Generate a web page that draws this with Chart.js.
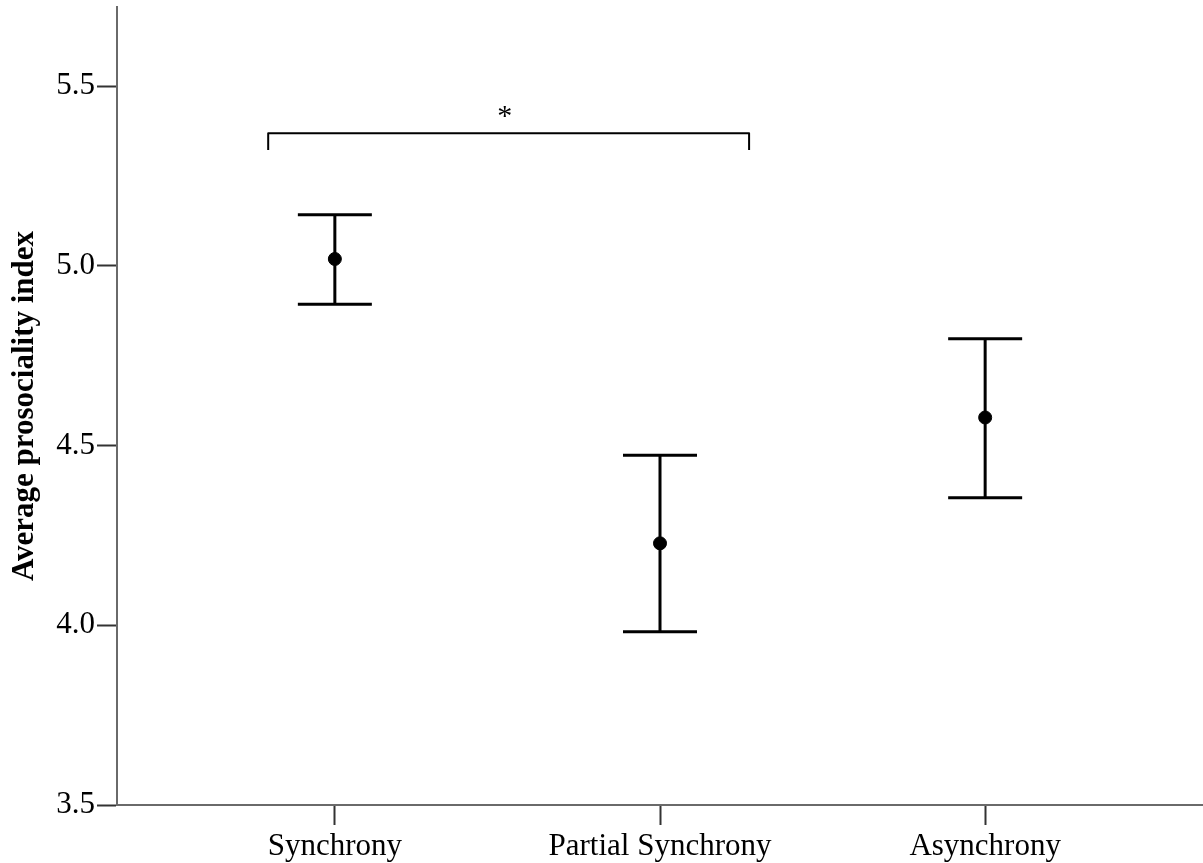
<!DOCTYPE html>
<html>
<head>
<meta charset="utf-8">
<script src="https://cdn.jsdelivr.net/npm/chart.js@4/dist/chart.umd.min.js"></script>
<style>
  html, body { margin: 0; padding: 0; background: #fff; }
  #wrap { width: 1203px; height: 863px; position: relative; }
</style>
</head>
<body>
<div id="wrap"><canvas id="chart"></canvas></div>
<script>
// Condition means with error-bar limits
const conditions = ['Synchrony', 'Partial Synchrony', 'Asynchrony'];
const means = [5.019, 4.228, 4.578];
const upper = [5.142, 4.473, 4.797];
const lower = [4.893, 3.982, 4.355];
const yTicks = [3.5, 4.0, 4.5, 5.0, 5.5];

// Significance bracket between Synchrony and Partial Synchrony
const bracketX = [0.795, 2.274];
const bracketY = 5.369;
const bracketFoot = 5.322;
const sigMark = '*';

const INK = '#000';
const SERIF = '"Liberation Serif", "Times New Roman", serif';

const errorBars = {
  id: 'errorBars',
  beforeDatasetsDraw(chart) {
    const { ctx, scales: { x, y } } = chart;
    const cap = 37;
    ctx.save();
    ctx.strokeStyle = INK;
    ctx.lineWidth = 3;
    ctx.lineCap = 'butt';
    conditions.forEach((c, i) => {
      const px = x.getPixelForValue(i + 1);
      const top = y.getPixelForValue(upper[i]);
      const bot = y.getPixelForValue(lower[i]);
      ctx.beginPath();
      ctx.moveTo(px, top); ctx.lineTo(px, bot);
      ctx.moveTo(px - cap, top); ctx.lineTo(px + cap, top);
      ctx.moveTo(px - cap, bot); ctx.lineTo(px + cap, bot);
      ctx.stroke();
    });
    // significance bracket
    const x0 = x.getPixelForValue(bracketX[0]);
    const x1 = x.getPixelForValue(bracketX[1]);
    const yb = y.getPixelForValue(bracketY);
    const yf = y.getPixelForValue(bracketFoot);
    ctx.lineWidth = 2;
    ctx.lineJoin = 'round';
    ctx.beginPath();
    ctx.moveTo(x0, yf); ctx.lineTo(x0, yb); ctx.lineTo(x1, yb); ctx.lineTo(x1, yf);
    ctx.stroke();
    ctx.fillStyle = INK;
    ctx.font = '30px ' + SERIF;
    ctx.textAlign = 'center';
    ctx.textBaseline = 'alphabetic';
    ctx.fillText(sigMark, (x0 + x1) / 2 - 4, yb - 8);
    ctx.restore();
  }
};

// Keep the plot box fixed: no extra room reserved for edge labels
function noEdgePadding(scale) {
  scale.paddingTop = 0;
  scale.paddingBottom = 0;
  scale.paddingLeft = 0;
  scale.paddingRight = 0;
}

new Chart(document.getElementById('chart'), {
  type: 'scatter',
  data: {
    datasets: [{
      data: means.map((m, i) => ({ x: i + 1, y: m })),
      backgroundColor: INK,
      borderColor: INK,
      pointRadius: 6.5,
      pointHoverRadius: 6.5
    }]
  },
  options: {
    responsive: true,
    maintainAspectRatio: false,
    animation: false,
    layout: { autoPadding: false, padding: { top: 7, right: 0, left: 0, bottom: 0 } },
    plugins: { legend: { display: false }, tooltip: { enabled: false } },
    scales: {
      x: {
        type: 'linear',
        min: 0.33,
        max: 3.67,
        afterBuildTicks(scale) { scale.ticks = conditions.map((c, i) => ({ value: i + 1 })); },
        afterFit(scale) { scale.height = 58; noEdgePadding(scale); },
        border: { display: true, color: '#6a6a6a', width: 2 },
        grid: { drawOnChartArea: false, tickLength: 20, tickColor: '#333', tickWidth: 2 },
        ticks: {
          color: INK,
          padding: 3,
          maxRotation: 0,
          autoSkip: false,
          font: { family: SERIF, size: 31 },
          callback: (v) => conditions[Math.round(v) - 1]
        }
      },
      y: {
        min: 3.5,
        max: 5.72,
        afterBuildTicks(scale) { scale.ticks = yTicks.map(v => ({ value: v })); },
        afterFit(scale) { scale.width = 117; noEdgePadding(scale); },
        border: { display: true, color: '#6a6a6a', width: 2 },
        grid: { drawOnChartArea: false, tickLength: 20, tickColor: '#333', tickWidth: 2 },
        ticks: {
          color: INK,
          padding: 2,
          font: { family: SERIF, size: 31 },
          callback: (v) => Number(v).toFixed(1)
        },
        title: {
          display: true,
          text: 'Average prosociality index',
          color: INK,
          padding: { top: 6, bottom: 0 },
          font: { family: SERIF, size: 31, weight: 'bold' }
        }
      }
    }
  },
  plugins: [errorBars]
});
</script>
</body>
</html>
